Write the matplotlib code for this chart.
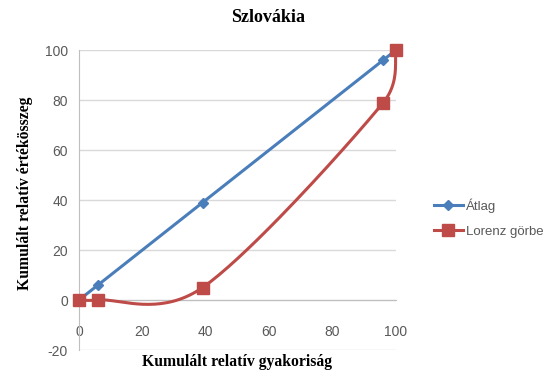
import numpy as np
import matplotlib.pyplot as plt

# Kumulált relatív gyakoriság / értékösszeg (%)
x_vals = [0, 6, 39, 96, 100]
atlag = [0, 6, 39, 96, 100]
lorenz = [0, 0, 5, 79, 100]
y_ticks = [-20, 0, 20, 40, 60, 80, 100]
x_ticks = [0, 20, 40, 60, 80, 100]

BLUE = "#4A7EBB"
RED = "#BE4B48"

plt.rcParams["axes.unicode_minus"] = False

AX_W, AX_H = 317, 300  # tengely mérete pixelben


def smooth_path(xs, ys, n=40):
    """Excel-szerű simított vonal: Bezier szakaszok, a kontrollpontok
    hossza a szakaszhossz felére korlátozva (pixeltérben számolva)."""
    scale = np.array([AX_W / 100, AX_H / 120])
    pts = np.column_stack([xs, ys]).astype(float) * scale
    out = [pts[0]]
    for i in range(len(pts) - 1):
        p0 = pts[max(i - 1, 0)]
        p1 = pts[i]
        p2 = pts[i + 1]
        p3 = pts[min(i + 2, len(pts) - 1)]
        d12 = np.linalg.norm(p2 - p1)
        d02 = np.linalg.norm(p2 - p0)
        d13 = np.linalg.norm(p3 - p1)
        f1 = 1 / 6 if d02 / 6 < d12 / 2 else d12 / (2 * d02)
        f2 = 1 / 6 if d13 / 6 < d12 / 2 else d12 / (2 * d13)
        c1 = p1 + (p2 - p0) * f1
        c2 = p2 - (p3 - p1) * f2
        t = np.linspace(0, 1, n)[1:, None]
        seg = ((1 - t) ** 3 * p1 + 3 * (1 - t) ** 2 * t * c1
               + 3 * (1 - t) * t ** 2 * c2 + t ** 3 * p2)
        out.extend(seg)
    out = np.array(out) / scale
    return out[:, 0], out[:, 1]


fig = plt.figure(figsize=(5.5, 3.75), dpi=100)
ax = fig.add_axes([79 / 550, 25 / 375, AX_W / 550, AX_H / 375])

ax.plot(x_vals, atlag, color=BLUE, lw=2.2, marker="D", ms=5.5,
        label="Átlag", zorder=3, clip_on=False)
sx, sy = smooth_path(x_vals, lorenz)
ax.plot(sx, sy, color=RED, lw=2.2, zorder=3, clip_on=False)
ax.plot(x_vals, lorenz, color=RED, lw=0, marker="s", ms=9, zorder=4,
        clip_on=False)
ax.plot([], [], color=RED, lw=2.2, marker="s", ms=8, label="Lorenz görbe")

ax.set_xlim(0, 100)
ax.set_ylim(-20, 100)
ax.set_xticks(x_ticks)
ax.set_yticks(y_ticks)
ax.yaxis.grid(True, color="#D9D9D9", lw=1)
ax.set_axisbelow(True)

for s in ["top", "right"]:
    ax.spines[s].set_visible(False)
ax.spines["left"].set_color("#BFBFBF")
ax.spines["bottom"].set_position(("data", 0))
ax.spines["bottom"].set_color("#BFBFBF")
ax.tick_params(axis="both", length=0, labelsize=10, labelcolor="#595959",
               labelfontfamily="Liberation Sans")
ax.tick_params(axis="x", pad=18)
ax.tick_params(axis="y", pad=8)

fig.text(268 / 550, 1 - 18 / 375, "Szlovákia", ha="center", va="center",
         fontsize=13, fontweight="bold", family="Liberation Serif")
fig.text(237 / 550, 1 - 362 / 375, "Kumulált relatív gyakoriság",
         ha="center", va="center", fontsize=11.3, fontweight="bold",
         family="Liberation Serif")
fig.text(25 / 550, 1 - 193 / 375, "Kumulált relatív értékösszeg",
         ha="center", va="center", rotation=90, fontsize=11.3,
         fontweight="bold", family="Liberation Serif")

leg = fig.legend(loc="center left", bbox_to_anchor=(422 / 550, 1 - 218 / 375),
                 frameon=False, handlelength=2.2,
                 handletextpad=0.2, labelspacing=1.0,
                 prop={"family": "Liberation Sans", "size": 9.5})
for t in leg.get_texts():
    t.set_color("#595959")

fig.savefig("out.png", dpi=100)
